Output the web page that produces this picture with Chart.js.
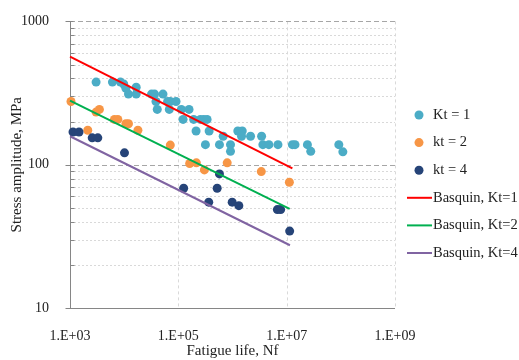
<!DOCTYPE html>
<html>
<head>
<meta charset="utf-8">
<script src="https://cdn.jsdelivr.net/npm/chart.js@4.4.1/dist/chart.umd.min.js"></script>
<style>
  html, body { margin: 0; padding: 0; background: #fff; }
</style>
</head>
<body>
<canvas id="chart" width="519" height="360"></canvas>
<script>
/* -------------------- DATA -------------------- */
const xTicks = [1e3, 1e5, 1e7, 1e9];
const xTickLabels = ["1.E+03", "1.E+05", "1.E+07", "1.E+09"];
const yTicks = [10, 20, 30, 40, 50, 60, 70, 80, 90, 100, 200, 300, 400, 500, 600, 700, 800, 900, 1000];
const yLabelled = [10, 100, 1000];

// Kt = 1 test points
const kt1N = [3030, 6070, 8530, 9800, 10750, 12010, 16680, 16680, 32050, 36410, 38640, 40830, 52080,
    63400, 71070, 90640, 68080, 113700, 122300, 157700, 191900, 255400, 294300, 339900, 212600, 370400,
    316200, 574400, 672900, 918400, 918400, 1253000, 1513000, 1468000, 2154000, 3443000, 3639000,
    4698000, 6906000, 1.276e7, 1.426e7, 2.416e7, 2.783e7, 9.18e7, 1.09e8];
const kt1S = [377, 377, 377, 366, 341, 311, 347, 311, 311, 311, 276, 243, 311,
    276, 276, 276, 243, 243, 207, 243, 207, 207, 207, 207, 172, 172,
    138, 138, 158, 138, 124, 172, 172, 158, 158, 158, 138,
    138, 138, 138, 138, 138, 124, 138, 123];

// kt = 2 test points
const kt2N = [1043, 2128, 3030, 3490, 6607, 7638, 10750, 12010, 17930, 71070, 161900, 215400, 302600,
    798100, 3398000, 1.122e7];
const kt2S = [276, 174, 233, 243, 207, 207, 193, 193, 174, 137, 102, 103, 92, 103, 89.5, 75.4];

// kt = 4 test points
const kt4N = [1137, 1468, 2570, 3260, 10140, 125400, 363900, 521200, 574400, 986900, 1309000,
    6731000, 7743000, 1.136e7];
const kt4S = [169, 169, 154, 154, 121, 68.5, 54.8, 68.5, 86.2, 54.8, 51.8, 48.6, 48.6, 34.4];

// Basquin fits (end points of each straight line)
const basq1N = [1e3, 1.276e7];
const basq1S = [568, 94.3];
const basq2N = [1e3, 1.136e7];
const basq2S = [280, 49.1];
const basq4N = [1e3, 1.15e7];
const basq4S = [158, 27.4];

const pts = (xs, ys) => xs.map((v, i) => ({ x: v, y: ys[i] }));

const SERIF = '"Liberation Serif", "Times New Roman", serif';
const TEXT = "#222";

/* -------------------- GRID + AXES (Excel look) -------------------- */
const gridPlugin = {
    id: "excelGrid",
    beforeDatasetsDraw(chart) {
        const { ctx, chartArea: a, scales: { x, y } } = chart;
        ctx.save();
        ctx.lineWidth = 1;

        // vertical dotted lines
        ctx.strokeStyle = "#d9d9d9";
        ctx.setLineDash([3, 3]);
        xTicks.slice(1).forEach(v => {
            const px = Math.round(x.getPixelForValue(v)) + 0.5;
            ctx.beginPath();
            ctx.moveTo(px, a.top);
            ctx.lineTo(px, a.bottom);
            ctx.stroke();
        });

        // horizontal lines: dashed majors, dotted minors
        yTicks.slice(1).forEach(v => {
            const py = Math.round(y.getPixelForValue(v)) + 0.5;
            const major = yLabelled.includes(v);
            ctx.strokeStyle = major ? "#a6a6a6" : "#d9d9d9";
            ctx.setLineDash(major ? [5, 3] : [2, 2]);
            ctx.beginPath();
            ctx.moveTo(a.left, py);
            ctx.lineTo(a.right, py);
            ctx.stroke();
        });

        // axis lines + y tick marks
        ctx.setLineDash([]);
        ctx.strokeStyle = "#868686";
        const lx = Math.round(a.left) + 0.5;
        const by = Math.round(a.bottom) + 0.5;
        ctx.beginPath();
        ctx.moveTo(lx, a.top);
        ctx.lineTo(lx, by);
        ctx.lineTo(a.right, by);
        yTicks.forEach(v => {
            const py = Math.round(y.getPixelForValue(v)) + 0.5;
            if (yLabelled.includes(v)) {
                ctx.moveTo(lx - 5, py);
                ctx.lineTo(lx + 3, py);
            } else {
                ctx.moveTo(lx, py);
                ctx.lineTo(lx + 4, py);
            }
        });
        ctx.stroke();
        ctx.restore();
    }
};

/* -------------------- LEGEND ON THE RIGHT -------------------- */
const legendPlugin = {
    id: "sideLegend",
    afterDraw(chart) {
        const { ctx, chartArea: a } = chart;
        ctx.save();
        ctx.font = "14.5px " + SERIF;
        ctx.textBaseline = "middle";
        chart.data.datasets.forEach((ds, i) => {
            const cy = 115 + i * 27.6;
            if (ds.type === "line") {
                ctx.strokeStyle = ds.borderColor;
                ctx.lineWidth = 2;
                ctx.beginPath();
                ctx.moveTo(a.right + 12, cy);
                ctx.lineTo(a.right + 37, cy);
                ctx.stroke();
            } else {
                ctx.fillStyle = ds.backgroundColor;
                ctx.beginPath();
                ctx.arc(a.right + 24, cy, 4.5, 0, Math.PI * 2);
                ctx.fill();
            }
            ctx.fillStyle = TEXT;
            ctx.fillText(ds.label, a.right + 38, cy);
        });
        ctx.restore();
    }
};

function scatterSet(label, color, data, order) {
    return {
        label, data, order,
        backgroundColor: color,
        pointBackgroundColor: color,
        pointBorderWidth: 0,
        pointRadius: 4.5,
        clip: false
    };
}

function lineSet(label, color, data, order) {
    return {
        type: "line",
        label, data, order,
        borderColor: color,
        borderWidth: 2,
        pointRadius: 0,
        fill: false,
        clip: false
    };
}

new Chart(document.getElementById("chart"), {
    type: "scatter",
    data: {
        datasets: [
            scatterSet("Kt = 1", "#4bacc6", pts(kt1N, kt1S), 6),
            scatterSet("kt = 2", "#f79646", pts(kt2N, kt2S), 5),
            scatterSet("kt = 4", "#264478", pts(kt4N, kt4S), 4),
            lineSet("Basquin, Kt=1", "#ff0000", pts(basq1N, basq1S), 3),
            lineSet("Basquin, Kt=2", "#00b050", pts(basq2N, basq2S), 2),
            lineSet("Basquin, Kt=4", "#8064a2", pts(basq4N, basq4S), 1)
        ]
    },
    options: {
        responsive: false,
        animation: false,
        layout: { padding: { top: 19, right: 124, left: 0, bottom: 0 } },
        plugins: {
            legend: { display: false },
            tooltip: { enabled: false }
        },
        scales: {
            x: {
                type: "logarithmic",
                min: 1e3,
                max: 1e9,
                afterBuildTicks: s => { s.ticks = xTicks.map(v => ({ value: v })); },
                afterFit: s => { s.height = 52; },
                grid: { display: false },
                border: { display: false },
                ticks: {
                    padding: 12,
                    autoSkip: false,
                    maxRotation: 0,
                    color: TEXT,
                    font: { family: SERIF, size: 14 },
                    callback: (v, i) => xTickLabels[i]
                },
                title: {
                    display: true,
                    text: "Fatigue life, Nf",
                    color: TEXT,
                    padding: 0,
                    font: { family: SERIF, size: 15 }
                }
            },
            y: {
                type: "logarithmic",
                min: 10,
                max: 1000,
                afterBuildTicks: s => { s.ticks = yTicks.map(v => ({ value: v })); },
                afterFit: s => { s.width = 70; },
                grid: { display: false },
                border: { display: false },
                ticks: {
                    padding: 13,
                    autoSkip: false,
                    color: TEXT,
                    font: { family: SERIF, size: 14 },
                    callback: v => yLabelled.includes(v) ? String(v) : ""
                },
                title: {
                    display: true,
                    text: "Stress amplitude, MPa",
                    color: TEXT,
                    padding: { top: 8, bottom: 0 },
                    font: { family: SERIF, size: 15 }
                }
            }
        }
    },
    plugins: [gridPlugin, legendPlugin]
});
</script>
</body>
</html>
